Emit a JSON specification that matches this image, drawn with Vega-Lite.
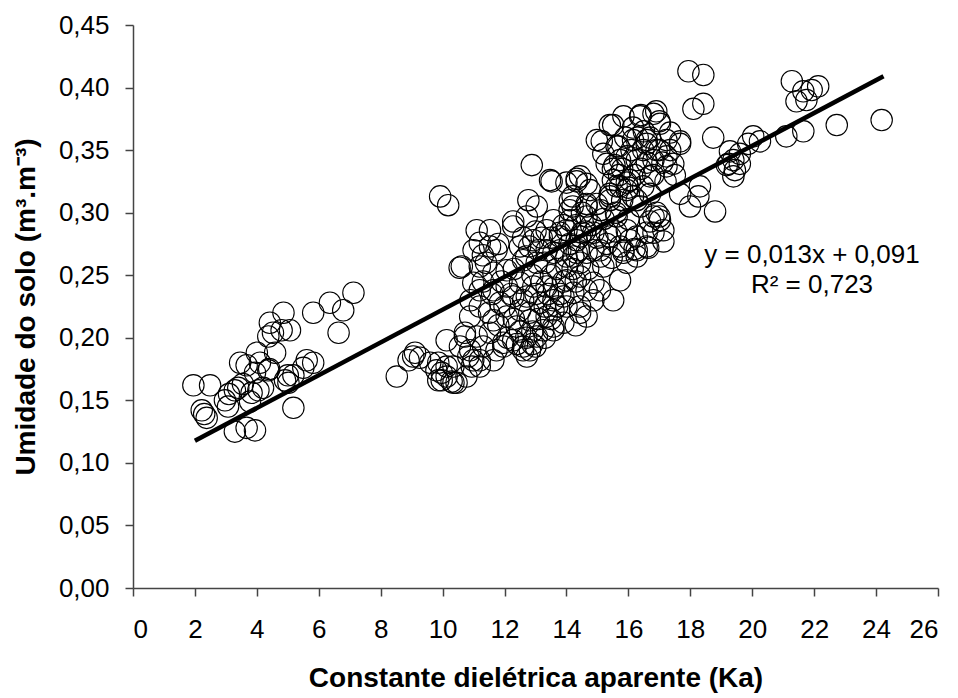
{
  "$schema": "https://vega.github.io/schema/vega-lite/v6.json",
  "width": 805,
  "height": 563,
  "autosize": {"type": "none"},
  "padding": {"left": 133, "top": 25, "right": 20, "bottom": 110},
  "background": "white",
  "config": {
    "view": {"stroke": null},
    "font": "Liberation Sans",
    "axis": {
      "grid": false,
      "domainColor": "#444444",
      "tickColor": "#444444",
      "domainWidth": 1.5,
      "tickWidth": 1.5,
      "tickSize": 8,
      "labelFont": "Liberation Sans",
      "labelFontSize": 26,
      "labelColor": "#000000",
      "titleFont": "Liberation Sans",
      "titleFontSize": 28,
      "titleFontWeight": "bold",
      "titleColor": "#000000"
    }
  },
  "datasets": {
    "pts": [
      {"ka":1.95,"u":0.162},{"ka":2.22,"u":0.142},{"ka":2.38,"u":0.136},{"ka":2.49,"u":0.162},{"ka":2.97,"u":0.150},{"ka":3.07,"u":0.145},{"ka":3.29,"u":0.125},{"ka":3.29,"u":0.158},{"ka":3.4,"u":0.16},{"ka":3.67,"u":0.128},{"ka":3.94,"u":0.126},{"ka":3.46,"u":0.180},{"ka":3.67,"u":0.178},{"ka":3.83,"u":0.156},{"ka":3.78,"u":0.149},{"ka":3.94,"u":0.172},{"ka":4.0,"u":0.188},{"ka":4.1,"u":0.180},{"ka":4.37,"u":0.201},{"ka":4.42,"u":0.212},{"ka":4.52,"u":0.204},{"ka":4.59,"u":0.188},{"ka":4.8,"u":0.206},{"ka":4.86,"u":0.220},{"ka":5.07,"u":0.206},{"ka":4.91,"u":0.166},{"ka":5.02,"u":0.164},{"ka":5.18,"u":0.170},{"ka":5.18,"u":0.144},{"ka":5.5,"u":0.176},{"ka":5.61,"u":0.182},{"ka":5.82,"u":0.180},{"ka":5.82,"u":0.220},{"ka":6.36,"u":0.228},{"ka":6.64,"u":0.204},{"ka":6.79,"u":0.222},{"ka":7.12,"u":0.236},{"ka":4.2,"u":0.16},{"ka":4.4,"u":0.175},{"ka":5.0,"u":0.17},{"ka":3.1,"u":0.155},{"ka":2.3,"u":0.139},{"ka":3.55,"u":0.163},{"ka":4.05,"u":0.158},{"ka":4.37,"u":0.174},
      {"ka":8.52,"u":0.169},{"ka":8.9,"u":0.182},{"ka":9.05,"u":0.185},{"ka":9.11,"u":0.188},{"ka":9.27,"u":0.184},{"ka":9.6,"u":0.18},{"ka":9.8,"u":0.174},{"ka":9.86,"u":0.180},{"ka":9.97,"u":0.172},{"ka":9.86,"u":0.166},{"ka":10.13,"u":0.169},{"ka":9.97,"u":0.166},{"ka":10.13,"u":0.177},{"ka":10.29,"u":0.165},{"ka":10.35,"u":0.164},{"ka":10.35,"u":0.177},{"ka":10.45,"u":0.164},{"ka":10.13,"u":0.198},{"ka":10.56,"u":0.193},{"ka":10.72,"u":0.201},{"ka":10.83,"u":0.185},{"ka":10.94,"u":0.177},{"ka":10.77,"u":0.169},{"ka":10.89,"u":0.190},{"ka":10.99,"u":0.182},{"ka":10.72,"u":0.204},{"ka":10.89,"u":0.217},
      {"ka":9.92,"u":0.313},{"ka":10.18,"u":0.306},{"ka":10.55,"u":0.256},
      {"ka":11.2,"u":0.225},{"ka":11.1,"u":0.201},{"ka":11.31,"u":0.193},{"ka":11.2,"u":0.182},{"ka":11.2,"u":0.177},{"ka":11.53,"u":0.204},{"ka":11.64,"u":0.214},{"ka":11.85,"u":0.228},{"ka":11.74,"u":0.190},{"ka":11.64,"u":0.182},{"ka":11.96,"u":0.196},{"ka":11.96,"u":0.193},{"ka":11.64,"u":0.238},{"ka":11.2,"u":0.238},{"ka":10.99,"u":0.244},{"ka":10.62,"u":0.257},{"ka":11.2,"u":0.257},{"ka":11.64,"u":0.252},{"ka":11.53,"u":0.286},{"ka":11.1,"u":0.286},{"ka":11.2,"u":0.276},{"ka":11.3,"u":0.266},{"ka":11.53,"u":0.273},{"ka":11.74,"u":0.270},{"ka":11.8,"u":0.275},{"ka":11.5,"u":0.22},{"ka":11.8,"u":0.21},{"ka":11.4,"u":0.26},{"ka":11.0,"u":0.27},{"ka":11.3,"u":0.245},{"ka":10.9,"u":0.23},{"ka":11.6,"u":0.235},{"ka":11.9,"u":0.245},
      {"ka":12.07,"u":0.217},{"ka":12.28,"u":0.198},{"ka":12.6,"u":0.193},{"ka":12.82,"u":0.190},{"ka":12.72,"u":0.185},{"ka":12.6,"u":0.190},{"ka":12.39,"u":0.209},{"ka":12.82,"u":0.214},{"ka":12.5,"u":0.222},{"ka":12.28,"u":0.233},{"ka":12.72,"u":0.233},{"ka":12.93,"u":0.241},{"ka":12.5,"u":0.244},{"ka":12.07,"u":0.241},{"ka":12.07,"u":0.254},{"ka":12.28,"u":0.293},{"ka":12.28,"u":0.289},{"ka":12.5,"u":0.273},{"ka":12.93,"u":0.278},{"ka":12.6,"u":0.262},{"ka":12.88,"u":0.338},{"ka":12.77,"u":0.310},{"ka":12.72,"u":0.297},{"ka":12.8,"u":0.273},{"ka":12.0,"u":0.225},{"ka":12.2,"u":0.235},{"ka":12.3,"u":0.215},{"ka":12.5,"u":0.205},{"ka":12.6,"u":0.23},{"ka":12.8,"u":0.22},{"ka":12.9,"u":0.25},{"ka":12.1,"u":0.2},{"ka":12.4,"u":0.195},{"ka":12.7,"u":0.2},{"ka":12.9,"u":0.205},{"ka":12.3,"u":0.255},{"ka":12.7,"u":0.265},{"ka":12.6,"u":0.28},{"ka":12.9,"u":0.195},
      {"ka":13.0,"u":0.193},{"ka":13.04,"u":0.201},{"ka":13.15,"u":0.228},{"ka":13.36,"u":0.217},{"ka":13.25,"u":0.206},{"ka":13.58,"u":0.209},{"ka":13.58,"u":0.206},{"ka":13.9,"u":0.212},{"ka":13.58,"u":0.222},{"ka":13.36,"u":0.241},{"ka":13.04,"u":0.260},{"ka":13.58,"u":0.268},{"ka":13.36,"u":0.286},{"ka":13.79,"u":0.281},{"ka":13.47,"u":0.326},{"ka":13.52,"u":0.325},{"ka":13.04,"u":0.305},{"ka":13.58,"u":0.294},{"ka":13.79,"u":0.284},{"ka":13.2,"u":0.280},{"ka":13.36,"u":0.270},{"ka":13.9,"u":0.233},{"ka":13.58,"u":0.23},{"ka":13.0,"u":0.235},{"ka":13.1,"u":0.215},{"ka":13.2,"u":0.245},{"ka":13.3,"u":0.26},{"ka":13.4,"u":0.235},{"ka":13.5,"u":0.25},{"ka":13.6,"u":0.24},{"ka":13.7,"u":0.255},{"ka":13.8,"u":0.27},{"ka":13.9,"u":0.245},{"ka":13.1,"u":0.27},{"ka":13.5,"u":0.28},{"ka":13.9,"u":0.29},{"ka":13.0,"u":0.285},{"ka":13.3,"u":0.225},{"ka":13.5,"u":0.215},{"ka":13.7,"u":0.225},{"ka":13.3,"u":0.2},{"ka":13.8,"u":0.235},
      {"ka":14.0,"u":0.225},{"ka":14.22,"u":0.236},{"ka":14.44,"u":0.225},{"ka":14.65,"u":0.238},{"ka":14.87,"u":0.230},{"ka":14.87,"u":0.244},{"ka":14.0,"u":0.246},{"ka":14.0,"u":0.257},{"ka":14.44,"u":0.260},{"ka":14.65,"u":0.268},{"ka":14.87,"u":0.284},{"ka":14.5,"u":0.284},{"ka":14.44,"u":0.249},{"ka":14.44,"u":0.220},{"ka":14.33,"u":0.325},{"ka":14.65,"u":0.323},{"ka":14.33,"u":0.327},{"ka":14.11,"u":0.310},{"ka":14.65,"u":0.307},{"ka":14.11,"u":0.294},{"ka":14.65,"u":0.297},{"ka":14.98,"u":0.307},{"ka":14.33,"u":0.278},{"ka":14.33,"u":0.268},{"ka":14.0,"u":0.324},{"ka":14.2,"u":0.313},{"ka":14.44,"u":0.329},{"ka":14.76,"u":0.318},{"ka":14.1,"u":0.302},{"ka":14.65,"u":0.305},{"ka":14.44,"u":0.281},{"ka":14.0,"u":0.286},{"ka":14.22,"u":0.265},{"ka":14.87,"u":0.270},{"ka":14.98,"u":0.358},{"ka":14.0,"u":0.265},{"ka":14.1,"u":0.275},{"ka":14.2,"u":0.255},{"ka":14.3,"u":0.29},{"ka":14.4,"u":0.27},{"ka":14.5,"u":0.3},{"ka":14.6,"u":0.285},{"ka":14.8,"u":0.29},{"ka":14.2,"u":0.305},{"ka":14.3,"u":0.245},{"ka":14.7,"u":0.255},{"ka":14.3,"u":0.21},{"ka":14.65,"u":0.217},
      {"ka":15.08,"u":0.238},{"ka":15.51,"u":0.230},{"ka":15.73,"u":0.246},{"ka":15.95,"u":0.260},{"ka":15.4,"u":0.370},{"ka":15.19,"u":0.347},{"ka":15.68,"u":0.353},{"ka":15.95,"u":0.345},{"ka":15.73,"u":0.321},{"ka":15.5,"u":0.326},{"ka":15.95,"u":0.324},{"ka":15.41,"u":0.313},{"ka":15.1,"u":0.302},{"ka":15.62,"u":0.297},{"ka":15.95,"u":0.286},{"ka":15.84,"u":0.268},{"ka":15.41,"u":0.281},{"ka":15.19,"u":0.257},{"ka":15.5,"u":0.335},{"ka":15.8,"u":0.335},{"ka":15.3,"u":0.339},{"ka":15.51,"u":0.370},{"ka":15.84,"u":0.377},{"ka":15.14,"u":0.357},{"ka":15.62,"u":0.353},{"ka":15.73,"u":0.342},{"ka":15.62,"u":0.321},{"ka":15.4,"u":0.315},{"ka":15.95,"u":0.318},{"ka":15.3,"u":0.284},{"ka":15.08,"u":0.270},{"ka":15.73,"u":0.273},{"ka":15.84,"u":0.270},{"ka":15.46,"u":0.264},{"ka":15.0,"u":0.28},{"ka":15.2,"u":0.295},{"ka":15.4,"u":0.31},{"ka":15.6,"u":0.3},{"ka":15.8,"u":0.31},{"ka":15.55,"u":0.338},{"ka":15.7,"u":0.33},{"ka":15.9,"u":0.36},{"ka":15.1,"u":0.265},{"ka":15.3,"u":0.275},{"ka":15.6,"u":0.285},
      {"ka":16.15,"u":0.368},{"ka":16.4,"u":0.378},{"ka":16.9,"u":0.381},{"ka":17.0,"u":0.373},{"ka":16.59,"u":0.358},{"ka":16.91,"u":0.350},{"ka":16.15,"u":0.313},{"ka":16.48,"u":0.321},{"ka":16.7,"u":0.329},{"ka":16.27,"u":0.270},{"ka":16.27,"u":0.342},{"ka":16.48,"u":0.350},{"ka":16.38,"u":0.377},{"ka":16.81,"u":0.379},{"ka":16.15,"u":0.358},{"ka":16.59,"u":0.355},{"ka":16.81,"u":0.342},{"ka":16.05,"u":0.326},{"ka":16.27,"u":0.310},{"ka":16.91,"u":0.300},{"ka":16.59,"u":0.284},{"ka":16.05,"u":0.278},{"ka":16.2,"u":0.271},{"ka":16.27,"u":0.265},{"ka":16.59,"u":0.273},{"ka":16.81,"u":0.284},{"ka":16.81,"u":0.297},{"ka":16.64,"u":0.272},{"ka":16.27,"u":0.281},{"ka":16.0,"u":0.32},{"ka":16.2,"u":0.33},{"ka":16.4,"u":0.335},{"ka":16.6,"u":0.34},{"ka":16.8,"u":0.33},{"ka":16.1,"u":0.35},{"ka":16.3,"u":0.36},{"ka":16.5,"u":0.365},{"ka":16.7,"u":0.36},{"ka":16.0,"u":0.295},{"ka":16.4,"u":0.305},{"ka":16.7,"u":0.315},{"ka":16.7,"u":0.293},
      {"ka":17.02,"u":0.371},{"ka":17.23,"u":0.358},{"ka":17.67,"u":0.355},{"ka":17.23,"u":0.337},{"ka":17.35,"u":0.364},{"ka":17.67,"u":0.357},{"ka":17.23,"u":0.345},{"ka":17.45,"u":0.339},{"ka":17.35,"u":0.350},{"ka":17.02,"u":0.294},{"ka":17.13,"u":0.286},{"ka":17.13,"u":0.277},{"ka":17.0,"u":0.297},{"ka":17.0,"u":0.35},{"ka":17.1,"u":0.34},{"ka":17.2,"u":0.325},{"ka":17.5,"u":0.33},{"ka":17.67,"u":0.315},{"ka":17.94,"u":0.413},{"ka":17.99,"u":0.305},
      {"ka":18.42,"u":0.410},{"ka":18.1,"u":0.383},{"ka":18.42,"u":0.387},{"ka":18.74,"u":0.360},{"ka":18.31,"u":0.321},{"ka":18.26,"u":0.313},{"ka":18.8,"u":0.301},{"ka":19.23,"u":0.339},{"ka":19.28,"u":0.349},{"ka":19.39,"u":0.342},{"ka":19.18,"u":0.338},{"ka":19.44,"u":0.334},{"ka":19.6,"u":0.339},{"ka":19.6,"u":0.347},{"ka":19.39,"u":0.329},{"ka":19.87,"u":0.355},{"ka":20.03,"u":0.361},{"ka":20.25,"u":0.357},{"ka":21.1,"u":0.361},{"ka":21.65,"u":0.365},{"ka":21.28,"u":0.405},{"ka":21.65,"u":0.397},{"ka":21.92,"u":0.398},{"ka":22.13,"u":0.401},{"ka":21.43,"u":0.389},{"ka":21.75,"u":0.39},{"ka":22.73,"u":0.370},{"ka":24.18,"u":0.374}
    ],
    "fit": [{"ka": 2.0, "u": 0.1177}, {"ka": 24.24, "u": 0.409}],
    "eq": [{"label": ["y = 0,013x + 0,091", "R² = 0,723"]}]
  },
  "layer": [
    {
      "data": {"name": "pts"},
      "mark": {"type": "point", "shape": "circle", "filled": false, "size": 460, "stroke": "#000000", "strokeWidth": 1.1, "opacity": 1},
      "encoding": {
        "x": {
          "field": "ka", "type": "quantitative",
          "scale": {"domain": [0, 26], "nice": false},
          "axis": {"values": [0,2,4,6,8,10,12,14,16,18,20,22,24,26], "labelPadding": 20, "titlePadding": 22, "title": "Constante dielétrica aparente (Ka)"}
        },
        "y": {
          "field": "u", "type": "quantitative",
          "scale": {"domain": [0, 0.45], "nice": false},
          "axis": {"values": [0,0.05,0.1,0.15,0.2,0.25,0.3,0.35,0.4,0.45], "labelExpr": "replace(format(datum.value, '.2f'), '.', ',')", "labelPadding": 16, "titlePadding": 18, "title": "Umidade do solo (m³.m⁻³)"}
        }
      }
    },
    {
      "data": {"name": "fit"},
      "mark": {"type": "line", "color": "#000000", "strokeWidth": 4.5},
      "encoding": {
        "x": {"field": "ka", "type": "quantitative"},
        "y": {"field": "u", "type": "quantitative"}
      }
    },
    {
      "data": {"name": "eq"},
      "mark": {"type": "text", "font": "Liberation Sans", "fontSize": 26, "align": "center", "baseline": "alphabetic", "lineHeight": 30, "color": "#000000"},
      "encoding": {
        "text": {"field": "label"},
        "x": {"datum": 21.93, "type": "quantitative"},
        "y": {"datum": 0.2598, "type": "quantitative"}
      }
    }
  ]
}
